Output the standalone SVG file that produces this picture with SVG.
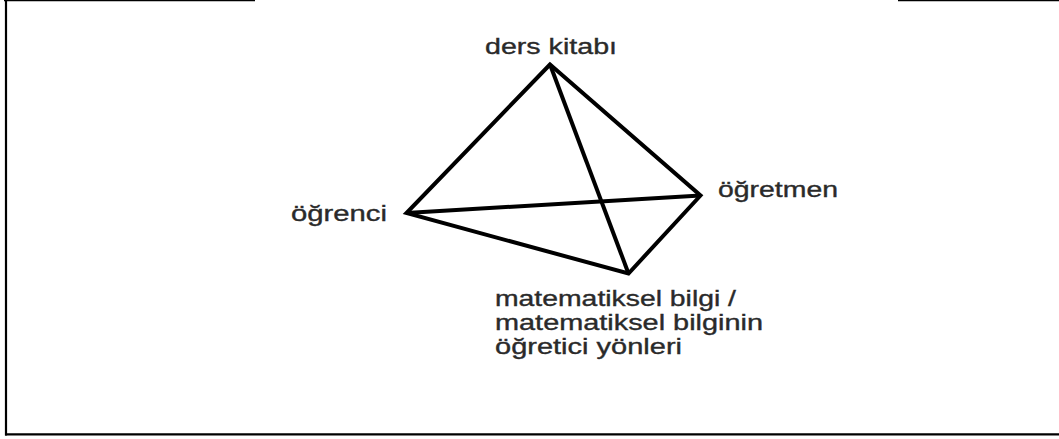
<svg xmlns="http://www.w3.org/2000/svg" width="1059" height="439" viewBox="0 0 1059 439">
<style>
.frame{stroke:#000;fill:none}
.edge{stroke:#000;stroke-width:4;fill:none;stroke-linejoin:miter;stroke-miterlimit:10}
.lbl{font-family:"Liberation Sans",Arial,sans-serif;font-size:21.5px;fill:#2a2a2a;stroke:#2a2a2a;stroke-width:0.35}
</style>
<rect width="1059" height="439" fill="#fff"/>
<g id="frame">
<line class="frame" x1="4" y1="0.5" x2="255" y2="0.5" stroke-width="1.5"/>
<line class="frame" x1="898" y1="0.5" x2="1059" y2="0.5" stroke-width="1.5"/>
<line class="frame" x1="6" y1="0" x2="6" y2="435.5" stroke-width="2.2"/>
<line class="frame" x1="5" y1="434.3" x2="1059" y2="434.3" stroke-width="2.2"/>
</g>
<g id="connectors">
<path class="edge" d="M550,64.5 L406.5,213 L628.5,273.5 L700.5,195.5 Z"/>
<line class="edge" x1="406.5" y1="213" x2="700.5" y2="195.5"/>
<line class="edge" x1="550" y1="64.5" x2="628.5" y2="273.5"/>
</g>
<g id="node-ders-kitabi">
<text class="lbl" x="485" y="54" textLength="132" lengthAdjust="spacingAndGlyphs">ders kitabı</text>
</g>
<g id="node-ogrenci">
<text class="lbl" x="291" y="221" textLength="96" lengthAdjust="spacingAndGlyphs">öğrenci</text>
</g>
<g id="node-ogretmen">
<text class="lbl" x="718" y="197" textLength="120" lengthAdjust="spacingAndGlyphs">öğretmen</text>
</g>
<g id="node-matematiksel-bilgi">
<text class="lbl" x="495" y="306" textLength="241" lengthAdjust="spacingAndGlyphs">matematiksel bilgi /</text>
<text class="lbl" x="495" y="330" textLength="268" lengthAdjust="spacingAndGlyphs">matematiksel bilginin</text>
<text class="lbl" x="495" y="354" textLength="187" lengthAdjust="spacingAndGlyphs">öğretici yönleri</text>
</g>
</svg>
